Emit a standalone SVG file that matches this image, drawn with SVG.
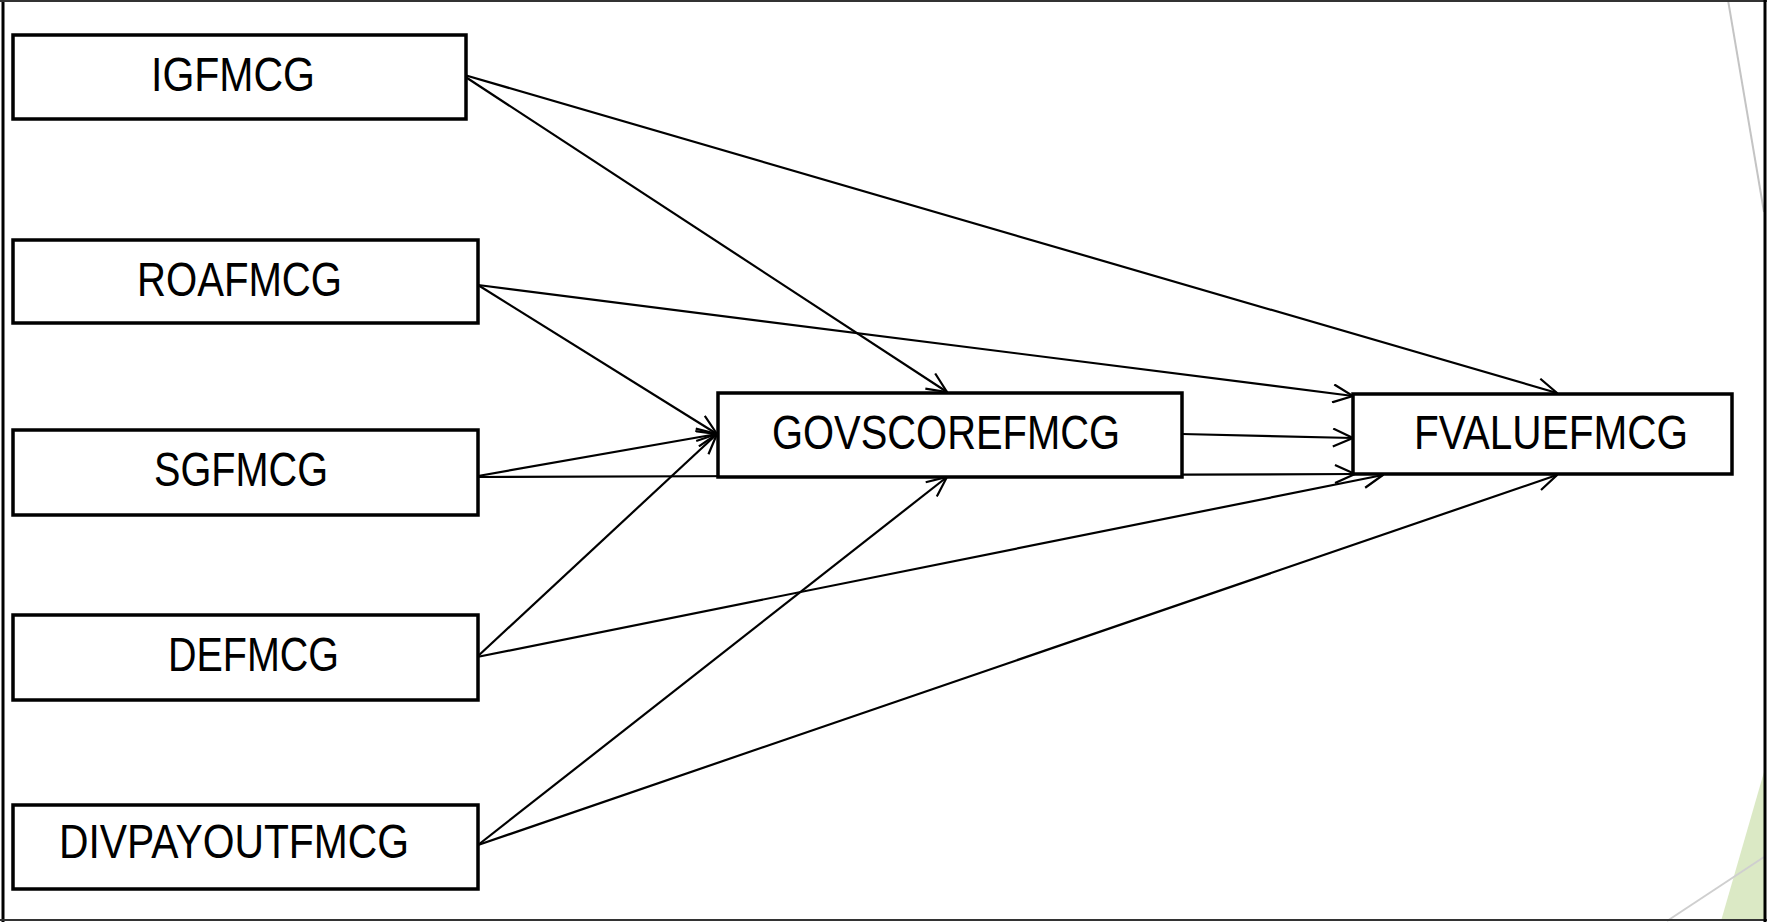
<svg xmlns="http://www.w3.org/2000/svg" width="1767" height="922" viewBox="0 0 1767 922">
  <style>
    .box { fill: #ffffff; stroke: #000000; stroke-width: 3.5; }
    .label { font-family: "Liberation Sans", Arial, sans-serif; font-size: 48px; fill: #000000; }
    .edge { stroke: #000000; stroke-width: 2.2; fill: none; marker-end: url(#arrow); }
  </style>
  <defs>
    <marker id="arrow" markerUnits="userSpaceOnUse" viewBox="0 0 22 20" markerWidth="22" markerHeight="20" refX="21" refY="10" orient="auto">
      <path d="M1,1 L21,10 L1,19" fill="none" stroke="#000000" stroke-width="2.2"/>
    </marker>
  </defs>

  <rect x="0" y="0" width="1767" height="922" fill="#ffffff"/>

  <!-- slide decoration at the right edge -->
  <g id="decoration">
    <polygon points="1764,772 1721,921 1764,921" fill="#dbe9c5"/>
    <line x1="1728" y1="0" x2="1764" y2="212" stroke="#c4c4c4" stroke-width="2"/>
    <line x1="1667" y1="921" x2="1764" y2="857" stroke="#cfcfcf" stroke-width="2"/>
  </g>

  <!-- frame -->
  <g id="frame" fill="none">
    <line x1="3" y1="0" x2="3" y2="922" stroke="#000000" stroke-width="3"/>
    <line x1="0" y1="1" x2="1767" y2="1" stroke="#333333" stroke-width="2"/>
    <line x1="0" y1="920" x2="1767" y2="920" stroke="#333333" stroke-width="2"/>
    <line x1="1765" y1="0" x2="1765" y2="922" stroke="#000000" stroke-width="3"/>
  </g>

  <g id="connectors">
    <path class="edge" d="M461,74 L1557,393"/>
    <path class="edge" d="M461,74 L947,392"/>
    <path class="edge" d="M478,285 L1353,396"/>
    <path class="edge" d="M478,285 L717,434"/>
    <path class="edge" d="M478,476 L717,434"/>
    <path class="edge" d="M478,477 L1355,474"/>
    <path class="edge" d="M1182,434 L1353,438"/>
    <path class="edge" d="M477,657 L717,434"/>
    <path class="edge" d="M477,657 L1383,475"/>
    <path class="edge" d="M478,845 L947,477"/>
    <path class="edge" d="M478,845 L1557,475"/>
  </g>

  <g id="IGFMCG">
    <rect class="box" x="13" y="35" width="453" height="84"/>
    <text class="label" x="151" y="91" textLength="164" lengthAdjust="spacingAndGlyphs">IGFMCG</text>
  </g>
  <g id="ROAFMCG">
    <rect class="box" x="13" y="240" width="465" height="83"/>
    <text class="label" x="137" y="296" textLength="205" lengthAdjust="spacingAndGlyphs">ROAFMCG</text>
  </g>
  <g id="SGFMCG">
    <rect class="box" x="13" y="430" width="465" height="85"/>
    <text class="label" x="154" y="486" textLength="174" lengthAdjust="spacingAndGlyphs">SGFMCG</text>
  </g>
  <g id="DEFMCG">
    <rect class="box" x="13" y="615" width="465" height="85"/>
    <text class="label" x="168" y="671" textLength="171" lengthAdjust="spacingAndGlyphs">DEFMCG</text>
  </g>
  <g id="DIVPAYOUTFMCG">
    <rect class="box" x="13" y="805" width="465" height="84"/>
    <text class="label" x="59" y="858" textLength="350" lengthAdjust="spacingAndGlyphs">DIVPAYOUTFMCG</text>
  </g>
  <g id="GOVSCOREFMCG">
    <rect class="box" x="718" y="393" width="464" height="84"/>
    <text class="label" x="772" y="449" textLength="348" lengthAdjust="spacingAndGlyphs">GOVSCOREFMCG</text>
  </g>
  <g id="FVALUEFMCG">
    <rect class="box" x="1353" y="394" width="379" height="80"/>
    <text class="label" x="1414" y="449" textLength="274" lengthAdjust="spacingAndGlyphs">FVALUEFMCG</text>
  </g>
</svg>
